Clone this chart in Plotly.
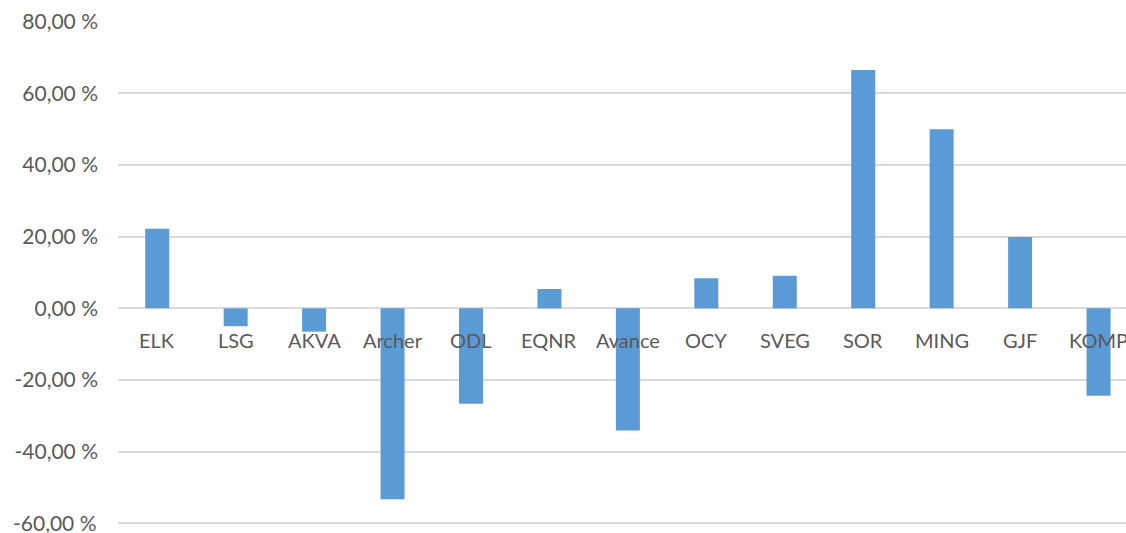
import plotly.graph_objects as go

categories = ["ELK", "LSG", "AKVA", "Archer", "ODL", "EQNR", "Avance", "OCY", "SVEG", "SOR", "MING", "GJF", "KOMP"]
values = [22.2, -5.0, -6.5, -53.3, -26.6, 5.4, -34.1, 8.4, 9.1, 66.5, 50.0, 19.9, -24.4]
tick_vals = [80, 60, 40, 20, 0, -20, -40, -60]
tick_text = ["80,00 %", "60,00 %", "40,00 %", "20,00 %", "0,00 %", "-20,00 %", "-40,00 %", "-60,00 %"]

font_family = "Lato, 'Open Sans', sans-serif"
text_color = "#595959"

fig = go.Figure()
fig.add_trace(go.Bar(
    x=list(range(len(categories))),
    y=values,
    width=0.306,
    marker=dict(color="#5B9BD5", line=dict(width=0)),
))

for i, c in enumerate(categories):
    fig.add_annotation(
        x=i, y=0, xref="x", yref="y", text=c, showarrow=False,
        yshift=-32, yanchor="middle", xanchor="center",
        font=dict(family=font_family, size=20, color=text_color),
    )

# The lowest tick label sits at the very bottom edge; draw it as an annotation
# so plotly does not hide it.
axis_labels = tick_text[:-1] + [""]
fig.add_annotation(
    x=0, y=tick_vals[-1], xref="paper", yref="y", text=tick_text[-1],
    showarrow=False, xanchor="right", yanchor="middle", xshift=-20, yshift=1,
    borderpad=0,
    font=dict(family=font_family, size=21, color=text_color),
)

fig.update_layout(
    width=1126, height=533,
    margin=dict(l=118, r=0, t=21, b=0, autoexpand=False),
    paper_bgcolor="white", plot_bgcolor="white",
    showlegend=False,
    xaxis=dict(range=[-0.5, 12.35], showticklabels=False, showgrid=False,
               zeroline=False, showline=False, fixedrange=True),
    yaxis=dict(range=[-62.7, 80.2], tickvals=tick_vals, ticktext=axis_labels,
               showgrid=True, gridcolor="#d9d9d9", gridwidth=2,
               zeroline=True, zerolinecolor="#d9d9d9", zerolinewidth=2,
               showline=False, ticklabelstandoff=19, fixedrange=True,
               tickfont=dict(family=font_family, size=21, color=text_color)),
)

fig.write_html(
    "out.html",
    config={"displayModeBar": False},
    post_script="document.body.style.margin='0';document.body.style.overflow='hidden';",
)
